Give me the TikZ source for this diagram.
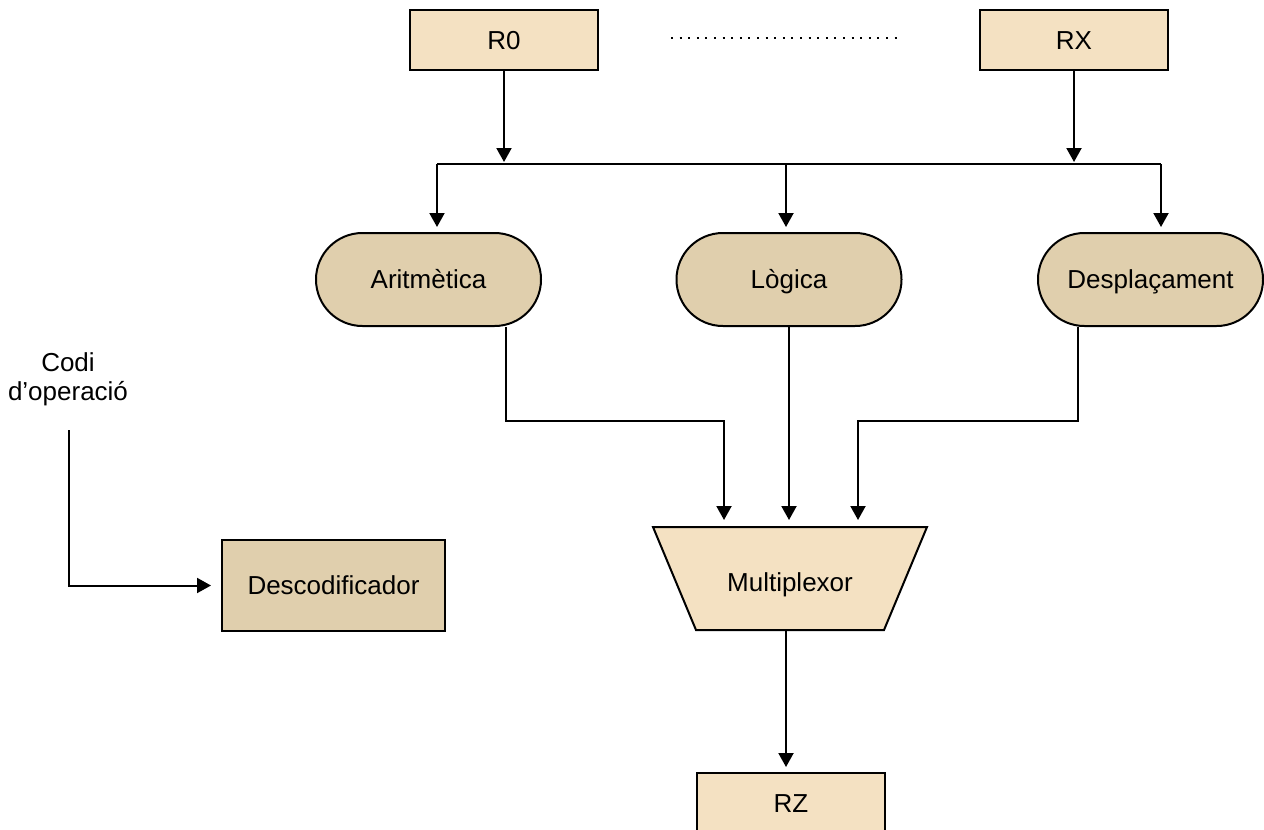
\documentclass[tikz,border=0pt]{standalone}
\usepackage{fontspec}
\setmainfont{Liberation Sans}
\usetikzlibrary{arrows.meta,calc}
\definecolor{regfill}{HTML}{F4E1C2}
\definecolor{opfill}{HTML}{E0CFAD}
\begin{document}
\begin{tikzpicture}[x=0.5pt,y=-0.5pt,line width=1pt,
  lbl/.style={font=\fontsize{13}{14.5}\selectfont},
  boxtext/.style={lbl,text height=9.3pt,text depth=0pt,inner sep=0pt},
  reg/.style={boxtext,draw,fill=regfill,minimum width=94pt,minimum height=30pt},
  unit/.style={boxtext,draw,fill=opfill,minimum width=112.5pt,minimum height=46.5pt,rounded corners=23.2pt},
  decbox/.style={boxtext,draw,fill=opfill,minimum width=111.5pt,minimum height=45.5pt},
  arr/.style={-{Triangle[length=7pt,width=7.5pt]}}]
\useasboundingbox (0,0) rectangle (1264,830);
\clip (0,0) rectangle (1264,830);

% source registers
\node[reg] (r0) at (504,40) {R0};
\node[reg] (rx) at (1074,40) {RX};
\draw[dash pattern=on 1pt off 3.3pt] ($(r0.east)+(72,-2)$) -- ($(rx.west)+(-82,-2)$);

% operand bus
\coordinate (busL) at (437,164);
\coordinate (busM) at (786,164);
\coordinate (busR) at (1161,164);
\draw (busL) -- (busR);
\draw[arr,shorten >=1pt] (r0.south) -- (r0.south |- busL);
\draw[arr,shorten >=1pt] (rx.south) -- (rx.south |- busR);

% functional units
\node[unit] (arit) at (428.5,279.5) {Aritmètica};
\node[unit] (logi) at (789,279.5) {Lògica};
\node[unit] (desp) at (1150.5,279.5) {Desplaçament};
\draw[arr,shorten >=2.5pt] (busL) -- (busL |- arit.north);
\draw[arr,shorten >=2.5pt] (busM) -- (busM |- logi.north);
\draw[arr,shorten >=2.5pt] (busR) -- (busR |- desp.north);

% multiplexer
\draw[fill=regfill] (653,527) -- (927,527) -- (884,630) -- (696,630) -- cycle;
\node[boxtext] (mux) at (790,582) {Multiplexor};
\coordinate (muxin1) at (724,527);
\coordinate (muxin2) at (789,527);
\coordinate (muxin3) at (858,527);
\coordinate (muxout) at (786,630);
\draw[arr,shorten >=3.5pt] ($(arit.south)+(77.5,0)$) -- (506,421) -| (muxin1);
\draw[arr,shorten >=3.5pt] (logi.south) -- (muxin2);
\draw[arr,shorten >=3.5pt] ($(desp.south)+(-72.5,0)$) -- (1078,421) -| (muxin3);

% result register
\node[reg] (rz) at (791,803) {RZ};
\draw[arr,shorten >=2.5pt] (muxout) -- (muxout |- rz.north);

% operation code and decoder
\node[lbl,align=center] (codi) at (68,379) {Codi\\d’operació};
\coordinate (c0) at (69,430);
\node[decbox] (deco) at (333.5,585.5) {Descodificador};
\draw[arr,shorten >=5pt] (c0) |- (deco.west);
\end{tikzpicture}
\end{document}
